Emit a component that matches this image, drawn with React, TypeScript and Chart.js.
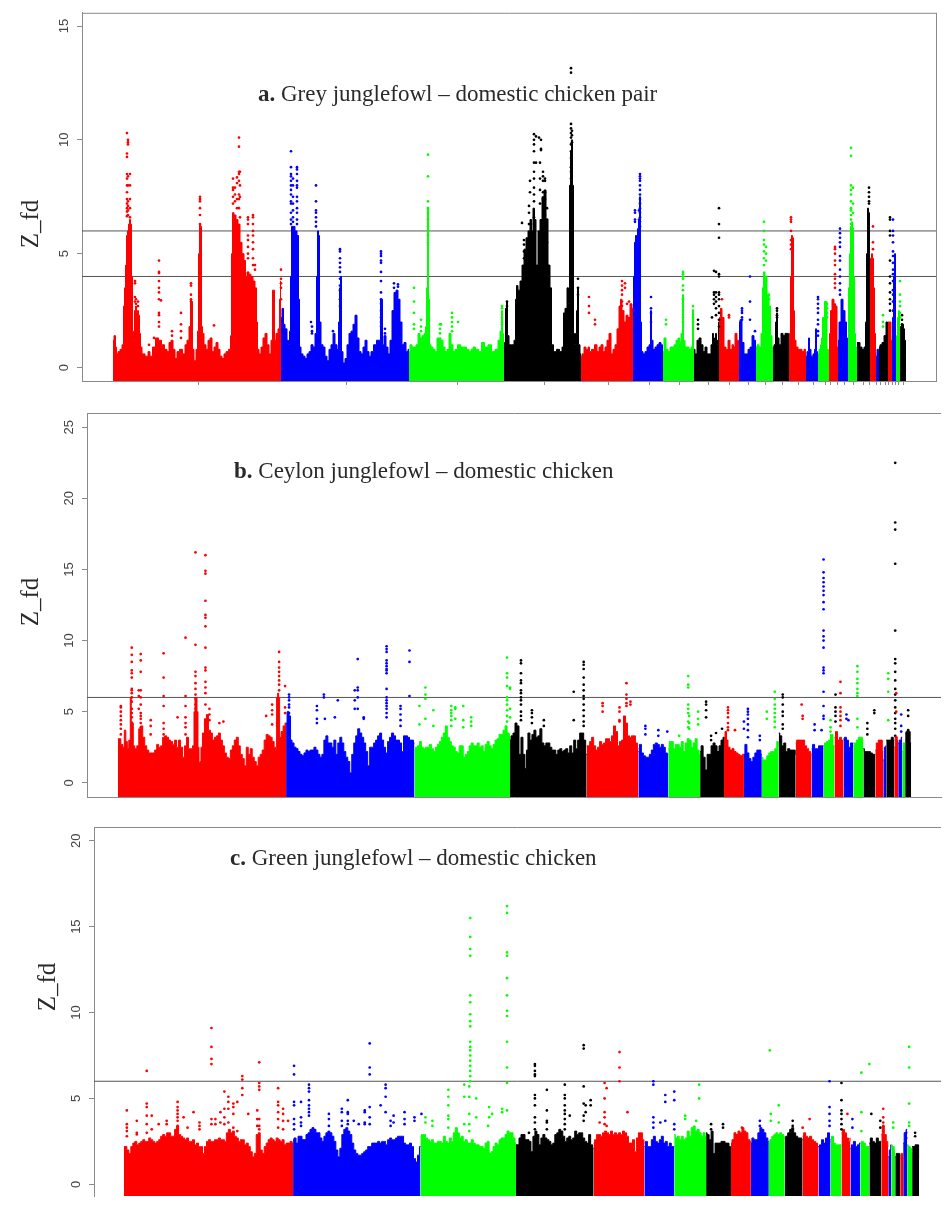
import React, { useEffect, useRef } from "react";
import { Chart, registerables } from "chart.js";

Chart.register(...registerables);

const RED = "#ff0000";
const BLUE = "#0000ff";
const GREEN = "#00ff00";
const BLACK = "#000000";

const chromColoursAB = [RED, BLUE, GREEN, BLACK, RED, BLUE, GREEN, BLACK, RED, BLUE, GREEN, BLACK, RED, BLUE, GREEN, RED, BLUE, GREEN, BLACK, RED, BLUE, BLACK, RED, BLUE, GREEN, BLACK];
const chromColoursC = [RED, BLUE, GREEN, BLACK, RED, BLUE, GREEN, BLACK, RED, BLUE, GREEN, BLACK, RED, BLUE, GREEN, RED, BLUE, GREEN, BLACK, RED, BLUE, GREEN, BLACK, RED, BLUE, GREEN, BLACK];

const yTicksA = [0, 5, 10, 15];
const yTicksB = [0, 5, 10, 15, 20, 25];
const yTicksC = [0, 5, 10, 15, 20];
const xTicksA = [198, 346, 457, 544, 608, 649, 679, 708, 729, 748, 765, 782, 798, 813, 825, 830, 837, 844, 853, 863, 869, 876, 880, 885, 888, 892, 895, 898, 903];
const thresholdsA = [4, 6];
const thresholdsB = [6];
const thresholdsC = [6];

// Upper edge of the solid band per chromosome: x, Z_fd, x, Z_fd ...
const envelopeA = [
  [113,1.2,115,1.4,116,.9,117,.6,119,.7,121,.8,123,1,124,2.7,125,3.5,126,4.5,127,5.8,128,6,129,6.3,130,6.5,131,6.3,132,4,133,1.6,134,1.2,135,2.5,136,2.7,137,2.4,138,2.5,139,2.3,140,1.5,141,.9,143,.6,147,.5,149,.7,151,.5,154,.9,157,1.3,160,1.2,163,1,166,.8,168,.7,170,1.1,172,1.2,174,.8,176,.4,178,.7,181,.8,184,.6,186,1,188,1.2,190,1.8,191,3,192,2.9,193,.8,195,.3,197,.8,198,1.6,199,5,200,6.3,201,6.2,202,1.8,203,1.5,205,1,207,.8,209,1.2,211,1.3,213,.7,215,.9,217,1.1,219,.8,221,.5,223,.4,225,.6,227,.7,230,.8,231,1.4,232,5,233,6.8,235,6.7,237,6.5,239,6.3,241,5.5,243,5,245,4.7,246,4,248,4.2,250,4.1,252,4,254,3.8,256,3.5,257,2,258,.8,260,.6,262,.9,264,1.3,266,1.5,268,1,270,.6,272,1.2,273,3.4,274,3.4,275,1.2,277,1.5,279,1.7,280,3,281,3.8],
  [281,2.2,283,2.6,284,1.9,286,1.7,288,1.2,289,1,290,1.6,291,4,292,6.2,294,6.2,296,6,298,5.8,299,3,300,.9,302,.6,304,.5,306,.4,308,.6,310,.7,312,1,314,.9,316,1.5,317,4,318,6,319,5.8,320,2,322,1,324,.9,326,.5,328,.3,330,.8,332,1,334,1.5,336,1,338,.8,339,2,340,3.5,341,4,342,.7,344,.2,346,.4,348,1,350,1.5,352,1.6,354,1.9,356,2.3,358,1.3,360,.7,362,.6,364,.9,366,1.2,368,.7,370,.5,372,.7,375,1,378,1.2,380,1.2,381,3,382,3,383,1,385,1.4,387,.9,389,.6,391,1.2,393,2.5,395,3.3,397,3.4,399,3,401,2,403,1,405,1.1,407,.7,409,.8],
  [409,.7,411,1,413,.9,415,.9,417,1,419,1.5,421,1.3,423,1.4,425,1.5,426,1.8,427,3.5,428,7,429,3,430,1,432,.9,434,.8,436,.7,438,1.3,440,1.3,442,1.2,444,.9,446,.7,448,.8,450,1.5,452,1,454,.7,456,.8,459,1,462,.9,465,.9,468,.8,470,.7,472,.8,474,.9,477,.8,480,.7,483,1.1,486,.9,490,1,493,.7,497,.8,499,1.2,501,1.6,502,2.5,503,1.5,504,1],
  [504,.9,505,1.1,506,2.6,507,2.9,508,1.4,510,1,513,1,515,1.2,516,3,517,3.6,519,3.4,521,3.8,523,4.5,525,5.2,527,5.7,529,6,531,6.5,532,6,534,7,535,6.5,537,4.5,539,6,541,6.5,543,7.5,545,7.8,547,6.5,549,4.5,551,3.5,552,1,555,.7,558,.8,561,.7,563,.9,564,2.4,566,2.6,568,3.5,569,2.8,570,8,571,9.5,572,10,573,8,574,1.5,575,1,576,1.5,577,2.5,578,3.5,579,1,581,.6],
  [581,.5,583,.6,585,.9,587,.8,589,.9,590,.7,593,.8,596,1,598,.7,600,.9,602,1,604,.7,606,.9,608,1.2,610,1.5,612,.6,614,.8,616,1,618,1.7,620,2.7,621,3,623,2.5,625,2,627,2.3,629,2.2,631,2.8,633,2.6],
  [633,3,634,4,635,5.5,636,5.8,637,5.8,638,6.1,639,6.5,640,7.5,641,2,642,.7,644,.6,646,.7,648,.9,650,1,651,2.5,652,1.2,654,.8,656,.9,658,1,660,1.1,662,1,663,.8],
  [663,.7,665,1.3,667,.8,669,.7,671,.9,673,.9,675,1,677,1.2,679,1.3,680,1.1,682,1.5,683,3.2,684,1.2,686,.9,688,.9,690,.8,692,.9,693,2.5,694,.9],
  [694,.8,696,.6,698,1.2,700,1.3,702,1,704,.7,706,.9,708,.6,710,.6,712,1,713,1.5,714,1.3,715,1.2,716,1.5,717,1,718,1.2,719,2],
  [719,1.7,720,2.2,721,2.6,723,2.2,725,.9,727,.8,729,1.2,731,.8,733,1,734,.9,736,1.5,738,1.2,739,.9],
  [739,2,741,2.1,743,1.1,745,.6,747,.6,749,.8,751,.9,753,1.4,755,1.2,756,.9],
  [756,.9,758,1,760,.9,762,1.5,763,3.5,764,4.2,766,4,768,3.2,770,2.7,771,1.4,773,.9],
  [773,.9,775,1,776,2,777,2.4,778,1.3,780,1,782,1.5,784,1.4,786,1.5,788,1.5,789,1.3],
  [789,1.2,790,1.5,791,4,792,5.8,793,5.7,794,2.5,795,1.2,797,.9,799,.8,801,.8,803,.7,805,.8,806,.7],
  [806,.5,808,.7,809,1.3,810,.8,812,.5,814,.6,815,.8,816,1.7,817,.7,818,.7],
  [818,.6,820,.8,821,1,822,1.3,823,2.2,826,2.9,828,.8,829,.7],
  [829,.9,830,1.5,831,2.5,833,3,835,2.8,836,2.7,838,.9],
  [838,1.2,840,2,842,3,844,2.5,846,2,847,1.3,848,.8],
  [848,1.5,849,3.5,850,5,851,6.2,852,6.4,853,6,854,4,855,1.5,856,.8,857,.9],
  [857,1.1,859,1.1,861,.9,863,.8,865,.9,866,2,867,5,868,7,869,6.8,870,3],
  [870,3.5,871,4.8,872,5,873,4.8,874,3.5,875,1.5,876,.7],
  [876,.5,878,.8,879,.7],
  [879,.9,881,1,883,1.1,885,1.4,887,2,888,1.5],
  [888,2,890,2,892,1.2],
  [892,1.2,893,2.2,894,4,895,5,896,3],
  [896,1,897,1.4,898,2.2,899,2.5,900,1.5],
  [900,1.3,901,1.8,902,1.9,903,1.9,904,1.7,905,1.2,906,.5],
];

const envelopeB = [
  [118,3.1,120,3.1,122,2.7,124,2.5,125,3.7,127,2.9,128,2.4,130,3,131,6,132,4.3,133,4.2,134,2.6,136,2.4,138,2.6,140,3.8,142,4,144,3.2,146,2.6,148,2.3,150,2.1,152,2.1,154,2.1,156,2.3,158,2.7,160,2.5,162,2.6,164,3.2,166,3.3,168,3.2,170,3,172,2.9,174,2.7,176,3,178,2.5,180,3,182,2.5,184,1.8,186,2.6,188,3.2,190,2.4,192,2.4,194,2.6,195,5,196,6,197,6,198,5,199,2.5,200,1.4,201,1.5,202,2.5,204,3.5,206,4.5,208,4.8,210,3.7,212,3.5,214,3,216,3.2,218,3.3,220,3.5,222,3,224,2.6,226,2.1,228,1.8,230,1.7,232,2.3,234,2.6,236,3,238,3.2,240,2.6,242,2,244,1.7,246,1.2,248,2.5,250,2,252,2.4,254,1.8,256,1.5,258,1.2,260,1.8,262,2,264,2.3,266,3,268,3.4,270,3.3,272,3.2,274,2.9,276,2.5,277,2.3,278,6,279,6.3,280,6,281,3.2,283,3.6,285,4,287,4.2],
  [287,4.2,289,5,291,4.7,292,3,294,2.8,296,2.5,298,2.4,300,2.2,302,2,304,1.9,306,2.1,308,2.3,310,2.2,312,2.3,314,2.3,316,2.5,318,2.3,320,2,322,1.8,324,2,326,3,328,3.3,330,2.8,332,2.8,334,2.5,336,3,338,2,340,2.8,342,3.2,344,2.8,346,2.2,348,1.8,350,1.5,352,.7,354,2,356,2.8,358,3.3,360,3.8,362,3.5,364,3.2,366,2.8,368,2.2,370,1.2,372,2.5,374,2.5,376,2.8,378,3,380,3.3,382,3.5,384,3,386,2.5,388,2.1,390,2.9,392,3.2,394,3.5,396,3.3,398,3,400,3,402,2.8,404,2.2,406,3.3,408,3.3,410,3.2,412,3,414,3,416,2.8],
  [416,2.3,418,2.5,420,2.6,422,2.9,424,2.5,426,2.4,428,2.5,430,2.5,432,2.7,434,2.4,436,2.2,438,2.5,440,2.7,442,2.9,444,3.2,446,3.5,448,4,450,3.2,452,2.9,454,2.6,456,2.5,458,2.2,460,2.1,462,2.6,464,2.6,466,1.8,468,2,470,2.2,472,2.6,474,2.8,476,2.6,478,2.6,480,2.8,482,2.5,484,2.6,486,2.2,488,2.7,490,2.9,492,2.6,494,2.4,496,2.7,498,3,500,3.1,502,3.4,504,3.4,506,3.7,508,4,510,3.5,512,3.4],
  [512,3,514,3.3,516,3.5,518,4.2,520,4,522,2,524,3.2,526,2,528,1,529,2.3,531,3.5,533,3,535,3.4,537,3.7,539,3.2,541,3.3,543,3.8,545,2.8,547,2.6,549,2.8,551,2.8,553,2.5,555,2.3,557,2.3,559,2,561,2.3,563,2.4,565,2.2,567,2.3,569,2.4,571,2.1,573,2.6,575,2.1,577,3,579,2.4,581,3,583,3.5,585,3.5,587,3,589,2],
  [589,2.6,591,2.6,593,2.9,595,3.2,597,2.6,599,2.3,601,2.5,603,2.9,605,2.7,607,2.8,609,3.1,611,3.1,613,2.9,615,3.3,617,4,619,3.6,621,2.6,623,2.9,625,3,627,4.7,629,4.2,631,3.3,633,3.2,635,3.3,637,3.3,639,2.8,641,2.4],
  [641,2.2,643,2.7,645,2.1,647,1.9,649,1.8,651,1.8,653,2,655,2.3,657,2.7,659,2.8,661,2.7,663,2.5,665,2.7,667,2.5,669,2.1,671,2],
  [671,2.4,673,2.9,675,2.9,677,2.4,679,2.7,681,2.7,683,2.5,685,2.9,687,2.2,689,2.8,691,3.1,693,3,695,2.5,697,2.8,699,3.1,701,2.3,703,2],
  [703,2.2,705,2.6,707,1.8,709,.9,711,2,713,2,715,2.6,717,2.8,719,2.6,721,2.2,723,2.6,725,3,727,3.2],
  [727,3.2,729,3.6,730,3,732,2.5,734,2.3,736,2.4,738,2.2,740,2.1,742,2,744,1.9,747,2],
  [747,2,749,2.7,751,2.1,753,1.7,755,1.5,757,1.8,759,2.1,761,2.3,763,2.3,765,2],
  [765,1.8,767,1.6,769,1.6,771,1.9,773,2.1,775,2.2,777,2.2,779,2.4,781,2.9,782,2.6],
  [782,3.5,784,3.3,786,2.6,788,2.8,790,2.2,792,2.4,794,2.3,796,2.3,798,2.3,799,2],
  [799,2.8,801,3,803,3,805,3,807,3,809,2.6,811,2.4,813,2.2,815,2],
  [815,2.4,817,2.7,819,2.4,821,2.4,823,2.6,825,2.6,827,2.6],
  [827,2.4,829,2.8,831,2.9,833,3,835,3.4,838,2.6],
  [838,3.2,840,3.6,842,3,844,3.2,846,3,847,3],
  [847,3.1,849,3.2,851,3,853,2.5,855,2.8,857,2.8],
  [857,2.6,859,2.8,861,3,863,3.2,865,3.2,867,3],
  [867,2.4,869,2.2,871,2.2,873,2.2,875,2.1,877,2,879,2],
  [879,2.3,881,2.8,883,3,885,3,887,2.2],
  [887,1.6,889,2.5,890,2.6],
  [890,3,892,3,894,3,896,3.2,898,3],
  [898,2.5,900,3.2,902,3],
  [902,2.8,904,3,906,3.2],
  [906,2.2,908,2.8,909,2.8],
  [909,3.5,911,3.6,913,3.6,915,2.8],
];

const envelopeC = [
  [124,2.2,126,2.2,128,2,130,1.8,132,2.2,134,2.4,136,2.5,138,2.3,140,2.4,142,2.5,144,2.6,146,2.5,148,2.5,150,2.7,152,2.6,154,2.5,156,2.4,158,2.5,160,2.6,162,2.8,164,2.9,166,2.8,168,3,170,3,172,2.8,174,2.8,176,3.2,178,3.4,180,2.9,182,2.8,184,2.7,186,2.6,188,2.7,190,2.5,192,2.5,194,2.6,196,2.3,198,2.4,200,2.2,202,2.2,204,1.8,206,2.2,208,2.5,210,2.6,212,2.5,214,2.5,216,2.6,218,2.6,220,2.7,222,2.6,224,2.6,226,2.5,228,3,230,3.2,232,3,234,3.1,236,2.8,238,2.7,240,2.5,242,2.6,244,2.6,246,2.3,248,2.4,250,2.2,252,1.9,254,1.6,256,1.8,258,2.9,260,3,262,2,264,1.8,266,2.2,268,2.4,270,2.6,272,2.7,274,2.6,276,2.5,278,2.7,280,2.6,282,2.5,284,2.6,286,2.3,288,2.4,290,2.4,292,2.5,294,2.4],
  [294,2.6,296,2.7,298,2.4,300,2.8,302,2.8,304,2.6,306,2.6,308,2.9,310,3,312,3.2,314,3.3,316,3.2,318,3,320,3,322,2.7,324,2.5,326,2.8,328,3,330,3.1,332,3,334,2.8,336,2.5,338,2,340,1.6,342,2.1,344,2.9,346,3.2,348,3.3,350,3.1,352,2.9,354,2.4,356,2,358,1.8,360,1.7,362,1.7,364,1.8,366,1.9,368,2,370,2.2,372,2.2,374,2.4,376,2.4,378,2.4,380,2.5,382,2.4,384,2.5,386,2.5,388,2.3,390,2.6,392,2.7,394,2.6,396,2.6,398,2.7,400,2.8,402,2.8,404,2.8,406,2.4,408,2.3,410,2.3,412,2.4,414,2.2,416,1.5,418,1.3,420,1.7,422,2.2],
  [422,2.8,424,2.9,426,2.9,428,2.7,430,2.6,432,2.5,434,2.6,436,2.4,438,2.4,440,2.5,442,2.5,444,2.4,446,2.8,448,2.5,450,2.4,452,2.7,454,2.5,456,3,458,3.3,460,3,462,2.7,464,2.8,466,2.5,468,2.6,470,2.4,472,2.4,474,2.6,476,2.4,478,2.3,480,2.3,482,2.2,484,2.2,486,2.1,488,2.4,490,2.5,492,1.8,494,1.9,496,2.2,498,2.4,500,2.3,502,2.6,504,2.7,506,2.7,508,2.9,510,3.1,512,3,514,3,516,2.7,518,2.4],
  [518,2.3,520,2.3,522,2.7,524,2.9,526,2.9,528,2.6,530,2.6,532,2.5,534,1.9,536,2.8,538,3.1,540,2.9,542,2.3,544,2.7,546,2.9,548,2.7,550,2.6,552,2.5,554,2.3,556,2.4,558,2.9,560,3,562,3.2,564,3.1,566,2.8,568,2.5,570,2.7,572,2.8,574,2.6,576,2.7,578,3.1,580,2.9,582,3,584,3,586,2.7,588,2.5,590,2.4,592,2.9,594,2.3,596,2.1],
  [596,2.4,598,2.6,600,2.9,602,2.9,604,2.8,606,3,608,3.1,610,3,612,2.9,614,3.1,616,2.9,618,3,620,2.9,622,3,624,2.9,626,3.1,628,3,630,2.8,632,2.4,634,2.4,636,2.6,638,1.9,640,2.7,642,3,644,3,646,2.6,647,2.4],
  [647,2.2,649,2.5,651,2.2,653,2.2,655,2.6,657,2.8,659,2.5,661,2.4,663,2.6,665,2.8,667,2.4,669,2.5,671,2.2,673,2.4,675,2.2,677,2.2],
  [677,2.9,679,2.7,681,2.8,683,2.6,685,2.8,687,2.6,689,2.7,691,3.1,693,2.8,695,3.3,697,3.4,699,3.1,701,3.2,703,3,705,2.8,707,3,709,2.8],
  [709,3,711,2.9,713,2.6,715,3.1,717,1.8,719,2.4,721,2.4,723,2.4,725,2.5,727,2.5,729,2.4,731,2.4,733,2.2,734,2],
  [734,2.4,736,2.6,738,3,740,2.9,742,3.1,744,3,746,3.3,748,3.1,750,3,752,2.6,754,2.5],
  [754,2.4,756,2.7,758,2.6,760,2.6,762,3,764,3.3,766,3.2,768,3,770,2.7,772,2.5],
  [772,2.4,774,2.6,776,2.8,778,2.9,780,3,782,2.9,784,3,786,2.9,788,2.8],
  [788,2.7,790,2.8,792,3,794,3.2,796,3.3,798,3,800,2.8,802,2.7,804,2.7,806,2.6],
  [806,2.8,808,3,810,2.8,812,2.7,814,2.8,816,2.6,818,2.5,820,2.4,822,2.2],
  [822,2.2,824,2.3,826,2.6,828,2.4,830,2.7,832,3,834,2.6],
  [834,2.5,836,2.8,838,2.4,840,2.3,842,2.3,845,2.3],
  [845,3,847,3.2,849,3,851,2.7,853,2.5,854,2.7],
  [854,2.1,856,2.3,858,2.5,860,2.2,862,2.3,864,2.4],
  [864,2.4,866,2.5,868,2.4,870,2.2,873,2.2],
  [873,2.4,875,2.7,877,2.5,879,2.4,881,2.7,883,2.5,885,2.5],
  [885,2.9,887,3.4,889,2.9,891,2.5,892,2.2],
  [892,1.6,894,2,895,2.3],
  [895,2.3,897,2.2,899,1.9],
  [899,1.6,901,1.8,903,1.8,904,1.5],
  [904,1.7,906,1.8,907,1.6],
  [907,2.4,909,3,911,3.2],
  [911,2.3,913,2.2,915,2.1,916,1.9],
  [916,2.2,918,2.2,920,2.3,922,2.3,923,1.5],
];

// Single windows above the band: [x, [Z_fd ...]]
type Col = [number, number[]];
const dotsARed: Col[] = [
  [127,[10.3,9.4,9.25,8.5,8.3,8,7.7,7.4,7.2,7,6.85,6.65]],[128,[10,9.8,9.9,8.4,8,7.3,7.1,6.9,6.7]],[130,[8.5,8,7.4,7,6.6]],[135,[3.8,3.7,3.1,2.9]],[136,[3,2.8]],[138,[2.9,2.7]],[149,[1]],[154,[1.3]],[159,[4.7,4.2,4.15,3.8,3.5,3.3,3,2.4,2.3,2,1.8]],[161,[2.95]],[172,[1.6,1.4]],[181,[2.4,1.9,1.6,1.3]],[191,[3.7,3.6,3.2,3,2.9]],[200,[7.5,7.4,7.3,7,6.7,6.3]],[214,[1.85]],[233,[8.3,7.9,7.8,7.5,7.2]],[235,[7.9,7.6,7.3]],[237,[8.35,8.1,7.4,7]],[239,[10.1,9.7,8.6,8.5,8.2,7.6,7.4,7]],[240,[8.6,8,7.5,6.6]],[248,[6.6,6.5,6.3,5.8,5.6,5.3,5,4.8]],[253,[6.7,6.6,6.3,6,5.8,5.5,5.2,4.8,4.5]],[255,[4.5,4.3]],[281,[4.3,3.9,3.7,3.5,3]],
  [589,[3.1,2.7,2.4]],[595,[2.1,1.9]],[622,[3.8,3.6,3.4,3.2,2.9,2.7]],[625,[3.7,3.5]],[627,[2.8]],[629,[2.9]],[722,[3]],[729,[2.3,2.2]],[791,[6.6,6.5,6.4,6,5.6,5.4,5.2]],[835,[5.3,5.2,5,4.7,4.5,4.1,3.9,3.7,3.5]],[873,[6.2,5.5,5.2]],
];
const dotsABlue: Col[] = [
  [291,[9.5,8.8,8.5,8.4,8.2,8,7.8,7.6,7.3,7.2,6.8,6.5,6.3]],[293,[8.3,8,7.5,7.2,6.9,6.6,6.4]],[297,[8.8,8.7,8.5,8.2,8,7.9,7.5,7.3,7,6.8,6.5,6.3]],[311,[2]],[312,[1.8,1.6,1.5]],[316,[8,7.3,6.9,6.8,6.6,6.4,6.2]],[340,[5.2,5.1,4.8,4.6,4.4,4.2,3.9,3.6,3.4,3,2.7]],[333,[1.6]],[381,[5.1,5,4.9,4.7,4.6,4.2,3.8,3.3,3,2.8,2.5,2.2,2,1.8]],[385,[1.7,1.5]],[394,[3.7,3.5]],[398,[3.65,3.55]],
  [635,[6.9,6.8,6.5,6.4]],[639,[6.9,6.5]],[640,[8.5,8.4,8.3,8.2,8,7.8,7.6,7.4,7.2,7,6.8,6.6,6.4,6.2]],[651,[3.1,2.6,2.4,2]],[742,[2.6,2.5,2.4,2.2,2.1]],[750,[4,2.9,2.1]],[755,[1.6]],[818,[3.1,3,2.8,2.6,2.4,2.1,1.9,1.6,1.4]],[840,[6.1,5.9,5.7,5.5,5.3,4.9,4.7,4.3,4,3.7,3.4,3.2]],[893,[6.5,6,5.8,5.5,5.1,4.9,4.6,4.3,4.1,3.8,3.4,3.2,2.9,2.5]],
];
const dotsAGreen: Col[] = [
  [414,[3.5,2.9,2.4,1.9,1.7]],[421,[2.1,1.8,1.6]],[428,[9.35,8.4,7.3,7,6.8,6.5,6.2,6,5.8,5.5]],[440,[1.9,1.7,1.5]],[441,[1.9]],[452,[2.4,2.2,2,1.8,1.6]],[458,[2]],[502,[2.7,2.6,2.2,2,1.9]],[666,[2.1,1.9]],[683,[4.2,4.1,4,3.9,3.6,3.4,3,2.8,2.5,2.2,2]],[693,[2.7,2.5,2.2,2]],[764,[6.4,6,5.6,5.4,5.1,4.8,4.5]],[766,[5.3,5,4.7]],[769,[3.2,3]],[827,[2.8,2.6,2.4,2.2]],[851,[9.65,9.3,8,7.8,7.6,7.3,7,6.9,6.7,6.5,6.3,6.1]],[853,[7.9,7.2,6.8,6.1]],[883,[2.3,2,1.8]],[900,[3.8,3.2,2.9,2.7,2.4,2.2]],
];
const dotsABlack: Col[] = [
  [507,[2.9,2.7]],[522,[6.35]],[524,[5.6,5.4,5.1,4.8]],[529,[7.1,6.8,6.3,5.6]],[530,[8.2,7.7]],[534,[10.25,10,9.8,9.5,9,8.6,8.3,7.9,7.6,7.3,6.6,6.3]],[536,[10.15,9]],[539,[10.1]],[540,[9,8.3,7.8,7.2]],[541,[10,9.6,9.55]],[543,[8.6,8.4,8.2,7.7,7.4]],[545,[8.3,8.2,7.7,7.4,6.7,6.3]],[547,[7,6.5,5.5,4.5]],[571,[13.15,12.95,10.7,10.5,10.3,10.1,9.8,9.5,9.2,8.8,8.6,8.3,8,7.8,7.5,7.2,7,6.8,6.5,6.3]],[572,[10.4,10.2,9.9]],[578,[3.9,3.5,3.2]],
  [698,[2.1,1.9,1.7]],[712,[2.2]],[714,[4.25,3.3,3.2,3,2.8]],[716,[4.2,3.3,3.1,2.9,2.6,2.3]],[719,[7,6.3,5.7,4.1,4,3.3,3.2,3,2.7,2.4,2.1,1.8]],[777,[2.6,2.5,2.3,2.2]],[869,[7.9,7.7,7.5,7.3,7.2]],[890,[6.6,6.5,6,5.8,4.7,4,3.7,3.3,3,2.8,2.5]],[902,[2.3,2.1,1.9]],
];

const dotsBRed: Col[] = [
  [121,[5.4,5.3,5,4.7,4.4,4.1,3.8,3.4]],[132,[9.5,9,8.5,7.9,7.7,7.4,6.6,6.5,6.3,6,5.7,5.2,4.9,4.6]],[139,[6.5,6.1,5.2]],[141,[9.05,8.6,7.8,6.5,6,5.5,4.9,4.7,4.5,4.2,3.9]],[151,[4.4,4,3.4]],[164,[9.1,7.4,6.1,5.4,4.2,3.8,3.4]],[178,[4.6]],[186,[10.2,6.1,5.4,4.6,4.2,3.9,3.4]],[196,[16.2,9.7,7.8,7.5,7,6.6,6.2,5.9,5.5,5.2]],[206,[16,14.9,14.7,12.8,11.8,11.6,11,9.5,8.1,7.9,7.1,6.7,6.3,5.5]],[210,[5.2,4.8,4.4]],[220,[4.2]],[224,[4.3]],[267,[4.7]],[273,[5.5,5.1,4.8,4.1]],[278,[4.2,4]],[280,[9.2,8.5,8.1,7.8,7.5,7.2,6.9,6.5]],[286,[6.8,5.3,4.9]],
  [605,[5.6,5.4,5]],[622,[5.3,5,4.4,4.3]],[629,[7,6.2,5.9,5.6,5.4]],[633,[5.7,5.5]],[731,[5.3,5.1,4.9,4.6,4.2,3.9,3.7]],[738,[3.7]],[805,[5.5]],[806,[4.7,4.5]],[844,[7.1,6.3,5.3,5,4.7,4.4,4]],[900,[6.3,5,3.2]],
];
const dotsBBlue: Col[] = [
  [290,[6.2,6,5.8,5.5,5.3,4.9,4.6,4.4]],[318,[5.4,5.1,4.5,4.2]],[325,[6.2,6]],[326,[4.5]],[336,[4.6]],[339,[5.8]],[356,[6.5,5.8,5.2]],[359,[8.7,6.7,6.5,6,5.2]],[365,[4.6,4.5]],[388,[9.6,9.4,9.2,8.6,8.4,8.2,8,7.9,7.7,6.6,6,5.8,5.6,5.4,5.2,4.9,4.6]],[402,[5.4,5.2,4.8,4.4,4]],[411,[9.3,8.5,6.1]],
  [648,[4,3.8,3.4]],[661,[3.7,3.3]],[670,[3.6]],[747,[4.3,3.8]],[751,[5.2,5,4.8,4.5,4.1,3.7,3.2]],[763,[3.3,3]],[818,[4.1,3.7]],[825,[3.7]],[827,[15.7,14.8,14.4,14.1,13.8,13.5,13.2,12.7,12.2,10.7,10.3,10,9.5,8.1,7.9,7.7,6.4,5.4,4.7,4.5]],[850,[4.8,4.5]],[852,[4.4]],[905,[4.8,4,3.6]],
];
const dotsBGreen: Col[] = [
  [421,[5.4,4.1]],[427,[6.7,6.2,5.9,4.5]],[435,[5.1,4]],[453,[5.4,5.1,4.9,4.7,4.4,4]],[457,[5.3,5.2,4.5]],[465,[5.4,4.4,3.9]],[473,[4.6,4.3,4]],[509,[8.8,7.7,7.4,6.8,6,5.8,5.5,5.1,4.7,4.3]],[512,[6.7,6.6,5.2,4.6]],[682,[3.3]],[691,[7.5,6.9,6.7,5.5,5.2,4.9,4.3,3.9]],[692,[4.7,4.2,3.8]],[701,[5,4.5,4.1]],[770,[5,4.5]],[778,[6.4,5.9,5.5,5.2,4.9,4.6,4.3,3.9]],[834,[4.4,3.9,3.6]],[861,[8.2,7.8,7.3,7,6.6,6.3,6.1,4.5,3.9]],[892,[7.7,7.3,6.4,4.4]],
];
const dotsBBlack: Col[] = [
  [523,[8.6,8.4,7.7,7.2,7,6.5,6.3,6,5.8,5.5,5,4.7,4.4]],[534,[5.1,4.9,4.6,4.2]],[546,[4.4,4]],[576,[6.4,4.4]],[586,[8.5,8.3,8,7.4,6.9,6.5,6.1,5.9,5.5,5.1,4.7,4.3,4]],[709,[5.7,5.5,5.1,4.6]],[714,[3.3,3]],[719,[3.5]],[725,[3.8]],[786,[6.2,6,5.5,5,4.7,4.1,3.8]],[839,[6.2,5.3,5,4.7,4.3]],[871,[4.2,3.8,3.4]],[878,[5.1,4.9]],[899,[22.5,18.3,17.8,15.4,10.7,8.7,8.4,7.8,7.2,6.6,6.2,5.8,5.3,4.9,4.5,4.2,3.8,3.3]],[912,[5.1,4.7,3.7,3.4]],
];

const dotsCRed: Col[] = [
  [127,[4.3,3.5,3.3,3.1,2.8]],[137,[3.7,3,2.9]],[147,[6.6,4.7,4.5,4,3.5,3]],[152,[4,3.2]],[159,[3.5]],[167,[3.7,3.5]],[178,[4.8,4.5,4.3,4.1,3.9,3.7,3.4,3.2]],[184,[3.9]],[188,[3.3]],[194,[4.2]],[200,[3.6,3.4,3.2]],[212,[9.1,8,7.3,7,3.8,3.5]],[216,[3.8,3.5]],[221,[4.2,3.6]],[225,[5.4,4.4,3.9,3.5]],[229,[5.1,4.8,4.4,3.6]],[234,[4.7,4.5,4.1,3.3]],[238,[4.8,3.1]],[243,[6.3,6.1,5.6,5.2]],[249,[4.1]],[258,[4.3,3.8,3.4]],[260,[7.1,5.9,5.7,5.5,3.8,3.4,3.2]],[279,[5.6,4.8,4.6,4.2,3.8,3.3]],[284,[4.4,4.1,3.7,3.2]],[289,[3.7]],
  [602,[3.6]],[607,[5.9,5,4.2,3.9,3.5]],[609,[5.6,3.4]],[622,[7.7,6.8,6]],[630,[4.2]],[745,[3.3]],[806,[3.3]],[813,[3.8]],[851,[4.1]],[887,[4.4,3.9,3.6,3.4,3.1]],
];
const dotsCBlue: Col[] = [
  [295,[6.9,6.4,4.8,4.6,3.8,3.5,3.2]],[302,[4.8,3.9,3.6,3.4]],[310,[5.8,5.6,5.4,4.9,4.6,4.4,4.2,4]],[330,[4.1,3.8,3.4]],[343,[4.4,4.2,3.7,3.4]],[349,[4.9,4.2,4.1,3.7,3.5]],[355,[3.7]],[360,[3.5]],[366,[4.3,4.2,3.6,3.5]],[371,[8.2,6.8,6.4,4.5,3.9,3.5]],[382,[4.6]],[387,[5.8,5.6,5.1,4.2]],[392,[3.7,3.4]],[395,[4,3.6]],[406,[4.2,3.8,3.5]],[416,[3.9,3.7]],[423,[4.1]],
  [656,[6,5.8,3.9,3.6,3.3]],[663,[3.6]],[668,[5.2,4.8,3.7]],[677,[5.4,4.9,3.5,3.2]],[763,[3.7,3.4]],[833,[6,4.5,4.1,3.7,3.4]],[856,[3.8,3.3]],[910,[3,2.7]],
];
const dotsCGreen: Col[] = [
  [427,[3.9,3.6]],[434,[3.7,3.4]],[450,[5.5,5.1,4.6,4,3.8,3.3]],[466,[5.8,5.1,3.5]],[471,[5.7,5.1,4.1,3.5,3.1]],[472,[15.5,14.4,13.7,13.3,11,10.6,9.9,9.5,9.2,8.3,8,7.8,7.5,7.2,6.9,6.6,6.3,6]],[478,[5,3.9]],[490,[3.4]],[491,[4.5,3.9]],[494,[4.1]],[504,[4.4,4.2]],[509,[16.2,15.8,13.5,13.3,12,11,10.1,9.8,8.3,6.8,5.9,4.3]],[688,[4,3.8]],[699,[3.7]],[702,[5.8,5]],[773,[7.8]],[774,[4.1,3.7]],[782,[4.6,3.6]],[865,[6.5,4.2,3.1]],[873,[7]],[897,[3.6,3.3]],[913,[8,6.8,4.7,3.6,3.4]],
];
const dotsCBlack: Col[] = [
  [531,[3]],[537,[7,6.9,6.6,6.4,6.3,5.2,5,4.6,3.9,3.6,3.2]],[549,[5.5,4.3,3.7,3.6,3.2]],[567,[5.8,5.2,5,4.6,4.3,4.1,3.8,3.5,3.2]],[572,[4]],[586,[8.1,7.9,5.7,4.7,4,3.7]],[588,[4.6,4.2]],[593,[4.9,4.6]],[714,[3.5,3.2]],[726,[3.5,3.3]],[796,[3.7,3.4]],[845,[5.9,4.9,4.3,4.1,3.8,3.5,3.2]],[875,[4.1]],[884,[3.7,3.3]],[919,[3,2.8]],
];

const GREY = "#8a8a8a";
const TEXT = "#2a2a2a";
const SERIF = '"Liberation Serif", serif';

type PanelProps = {
  top: number; height: number; left: number; bottomGap: number; rightGap: number; paddingTop: number;
  xMax: number; yMin: number; yMax: number; yTicks: number[]; xTicks: number[]; thresholds: number[];
  envelope: number[][]; colours: string[]; dots: [string, Col[]][]; showBottom: boolean; showRight: boolean;
};

function Panel(p: PanelProps) {
  const ref = useRef<HTMLCanvasElement>(null);
  useEffect(() => {
    const datasets: any[] = [];
    p.thresholds.forEach((t) => {
      datasets.push({ type: "line", data: [{ x: p.left, y: t }, { x: p.xMax, y: t }], borderColor: "#555555", borderWidth: 1, pointRadius: 0, order: 30 });
    });
    p.envelope.forEach((flat, i) => {
      const data: { x: number; y: number }[] = [];
      for (let k = 0; k < flat.length; k += 2) data.push({ x: flat[k], y: flat[k + 1] });
      datasets.push({ type: "line", data, borderColor: p.colours[i], backgroundColor: p.colours[i], borderWidth: 1, pointRadius: 0, stepped: "middle", fill: "start", order: 20 - (i % 2) });
    });
    p.dots.forEach(([colour, cols]) => {
      const data: { x: number; y: number }[] = [];
      cols.forEach(([x, ys]) => ys.forEach((y) => data.push({ x, y })));
      datasets.push({ type: "scatter", data, backgroundColor: colour, borderColor: colour, borderWidth: 0, pointRadius: 1.35, order: 5 });
    });
    const frame = {
      id: "frame",
      afterDraw(chart: any) {
        const { ctx, chartArea: a } = chart;
        ctx.save();
        ctx.strokeStyle = GREY;
        ctx.lineWidth = 1;
        ctx.beginPath();
        ctx.moveTo(a.left + 0.5, a.top + 0.5);
        ctx.lineTo(a.right, a.top + 0.5);
        if (p.showRight) {
          ctx.moveTo(a.right + 0.5, a.top);
          ctx.lineTo(a.right + 0.5, a.bottom);
        }
        ctx.stroke();
        ctx.restore();
      },
    };
    const chart = new Chart(ref.current!, {
      type: "scatter",
      data: { datasets },
      plugins: [frame],
      options: {
        animation: false,
        responsive: false,
        layout: { padding: { top: p.paddingTop, right: p.rightGap, left: 0, bottom: 0 } },
        plugins: { legend: { display: false }, tooltip: { enabled: false } },
        scales: {
          x: {
            type: "linear",
            display: p.showBottom,
            min: p.left,
            max: p.xMax,
            afterBuildTicks: (s: any) => { s.ticks = p.xTicks.map((value) => ({ value })); },
            afterFit: (s: any) => { s.height = p.bottomGap; },
            border: { color: GREY, width: 1 },
            grid: { drawOnChartArea: false, color: GREY, tickLength: 4 },
            ticks: { display: false },
          },
          y: {
            type: "linear",
            min: p.yMin,
            max: p.yMax,
            afterBuildTicks: (s: any) => { s.ticks = p.yTicks.map((value) => ({ value })); },
            afterFit: (s: any) => { s.width = p.left; },
            border: { color: GREY, width: 1 },
            grid: { drawOnChartArea: false, color: GREY, tickLength: 5 },
            ticks: {
              minRotation: 90, maxRotation: 90, crossAlign: "center", padding: 5, color: "#444444",
              font: { family: '"Liberation Sans", sans-serif', size: 13 },
              callback: (v: any) => String(v),
            },
          },
        },
      } as any,
    } as any);
    return () => chart.destroy();
  }, []);
  return <canvas ref={ref} width={945} height={p.height} style={{ position: "absolute", left: 0, top: p.top, width: 945, height: p.height, display: "block" }} />;
}

function Title(props: { left: number; top: number; bold: string; rest: string; size: number }) {
  return (
    <div style={{ position: "absolute", left: props.left, top: props.top, fontFamily: SERIF, fontSize: props.size, color: TEXT, whiteSpace: "pre", lineHeight: "30px" }}>
      <b>{props.bold}</b> {props.rest}
    </div>
  );
}

function YLabel(props: { cx: number; cy: number; text: string }) {
  return (
    <div style={{ position: "absolute", left: props.cx - 40, top: props.cy - 15, width: 80, height: 30, lineHeight: "30px", textAlign: "center", transform: "rotate(-90deg)", fontFamily: SERIF, fontSize: 25, color: TEXT }}>
      {props.text}
    </div>
  );
}

export default function App() {
  return (
    <div style={{ position: "fixed", left: 0, top: 0, width: 945, height: 1209, overflow: "hidden", background: "#fff", filter: "blur(0.4px)" }}>
      <Panel top={0} height={400} left={82} bottomGap={19} rightGap={9} paddingTop={8} xMax={936} yMin={-0.59} yMax={15.58} yTicks={yTicksA} xTicks={xTicksA} thresholds={thresholdsA} envelope={envelopeA} colours={chromColoursAB} dots={[[RED, dotsARed], [BLUE, dotsABlue], [GREEN, dotsAGreen], [BLACK, dotsABlack]]} showBottom={true} showRight={true} />
      <Panel top={400} height={410} left={87} bottomGap={13} rightGap={0} paddingTop={13} xMax={945} yMin={-1.0} yMax={26.0} yTicks={yTicksB} xTicks={[]} thresholds={thresholdsB} envelope={envelopeB} colours={chromColoursAB} dots={[[RED, dotsBRed], [BLUE, dotsBBlue], [GREEN, dotsBGreen], [BLACK, dotsBBlack]]} showBottom={true} showRight={false} />
      <Panel top={810} height={399} left={94} bottomGap={0} rightGap={0} paddingTop={17} xMax={945} yMin={-0.69} yMax={20.8} yTicks={yTicksC} xTicks={[]} thresholds={thresholdsC} envelope={envelopeC} colours={chromColoursC} dots={[[RED, dotsCRed], [BLUE, dotsCBlue], [GREEN, dotsCGreen], [BLACK, dotsCBlack]]} showBottom={false} showRight={false} />
      <Title left={258} top={79} bold="a." rest="Grey junglefowl – domestic chicken pair" size={23} />
      <Title left={234} top={456} bold="b." rest="Ceylon junglefowl – domestic chicken" size={23} />
      <Title left={230} top={843} bold="c." rest="Green junglefowl – domestic chicken" size={23} />
      <YLabel cx={30} cy={224} text="Z_fd" />
      <YLabel cx={30} cy={602} text="Z_fd" />
      <YLabel cx={47} cy={987} text="Z_fd" />
    </div>
  );
}
